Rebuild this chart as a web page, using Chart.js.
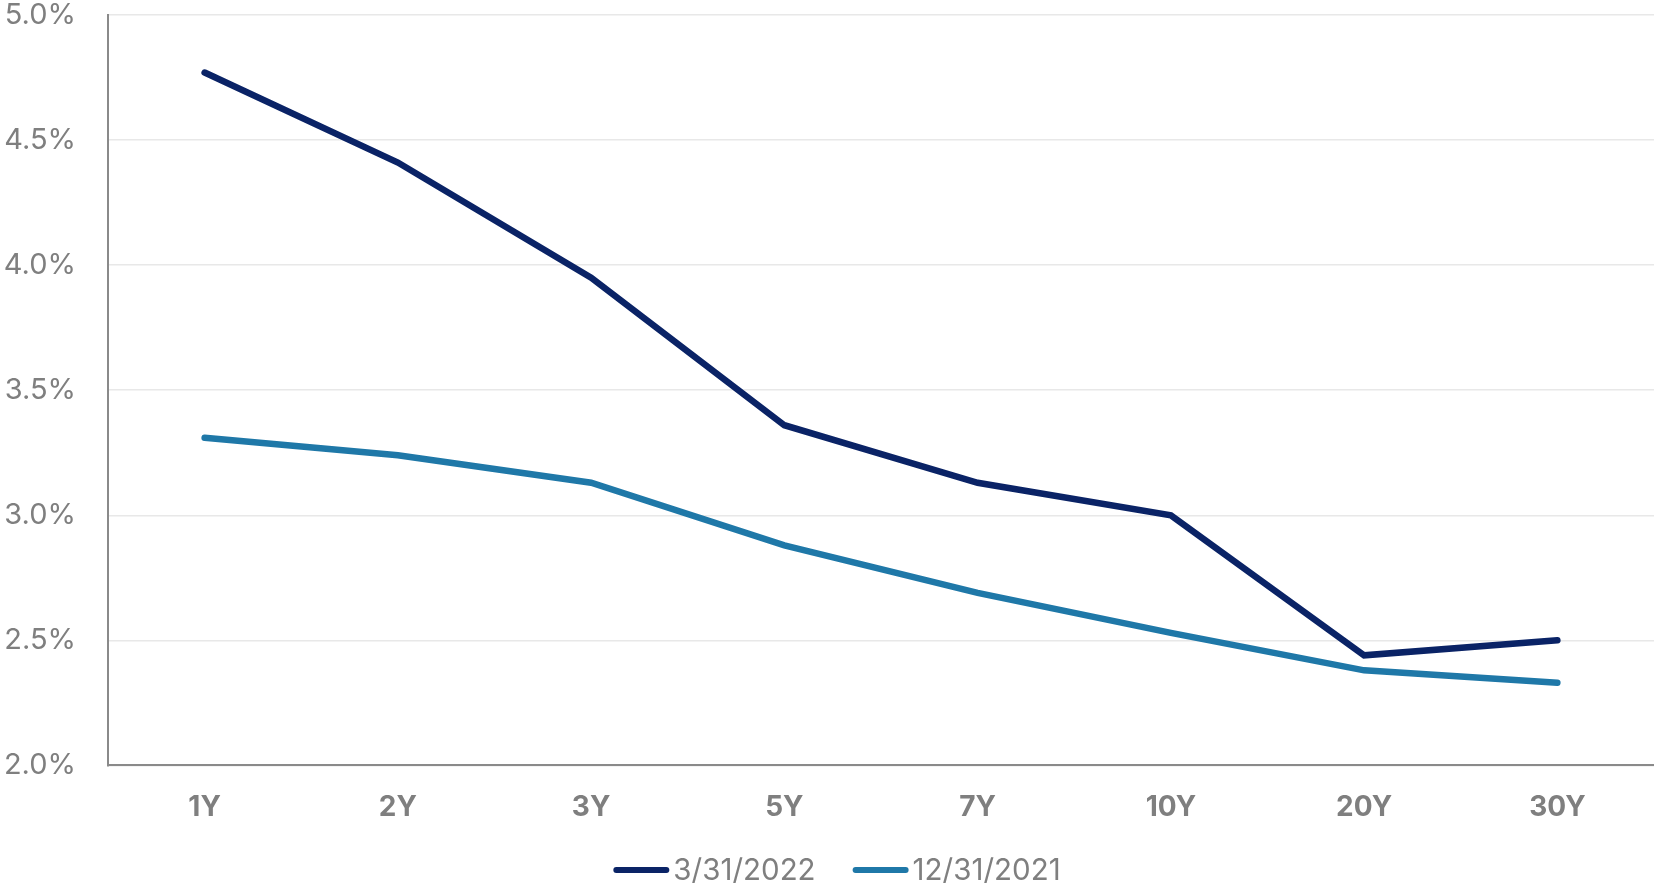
<!DOCTYPE html>
<html>
<head>
<meta charset="utf-8">
<title>Yield curve</title>
<script src="https://cdn.jsdelivr.net/npm/chart.js@4/dist/chart.umd.min.js"></script>
<style>
  html, body { margin: 0; padding: 0; background: #ffffff; }
  #wrap { width: 1654px; height: 886px; position: relative; }
</style>
</head>
<body>
<div id="wrap"><canvas id="chart"></canvas></div>
<script>
// Maturity buckets along the curve
const maturities = ['1Y', '2Y', '3Y', '5Y', '7Y', '10Y', '20Y', '30Y'];

// Yields (%) at each maturity
const yieldsMar2022 = [4.77, 4.41, 3.95, 3.36, 3.13, 3.00, 2.44, 2.50];
const yieldsDec2021 = [3.31, 3.24, 3.13, 2.88, 2.69, 2.53, 2.38, 2.33];

const seriesLabels = ['3/31/2022', '12/31/2021'];
const seriesColors = ['#0A2366', '#1F78A8'];

// Y axis range and step
const yMin = 2.0, yMax = 5.0, yStep = 0.5;

const FONT = 'Inter, "Noto Sans", sans-serif';
const GREY = '#7f7f7f';

// Legend drawn below the axis: short line swatch followed by the label
const lineLegend = {
  id: 'lineLegend',
  afterDraw(chart) {
    const ctx = chart.ctx;
    const fontSize = 29.5;
    const swatch = 56, textGap = 4, itemGap = 37;
    ctx.save();
    ctx.font = fontSize + 'px ' + FONT;
    const items = chart.data.datasets.map(ds => ({
      text: ds.label, color: ds.borderColor, w: ctx.measureText(ds.label).width
    }));
    let total = 0;
    items.forEach((it, i) => { total += swatch + textGap + it.w + (i ? itemGap : 0); });
    let x = chart.width / 2 + 10 - total / 2;
    const y = chart.height - 16;
    items.forEach(it => {
      ctx.strokeStyle = it.color;
      ctx.lineWidth = 6;
      ctx.lineCap = 'round';
      ctx.beginPath();
      ctx.moveTo(x + 3, y);
      ctx.lineTo(x + swatch - 3, y);
      ctx.stroke();
      ctx.fillStyle = GREY;
      ctx.textBaseline = 'middle';
      ctx.textAlign = 'left';
      ctx.fillText(it.text, x + swatch + textGap, y + 1);
      x += swatch + textGap + it.w + itemGap;
    });
    ctx.restore();
  }
};

const datasets = [yieldsMar2022, yieldsDec2021].map((vals, i) => ({
  label: seriesLabels[i],
  data: vals,
  borderColor: seriesColors[i],
  backgroundColor: seriesColors[i],
  borderWidth: 6.5,
  borderCapStyle: 'round',
  pointRadius: 0,
  pointHoverRadius: 0,
  tension: 0,
  fill: false
}));

new Chart(document.getElementById('chart'), {
  type: 'line',
  data: { labels: maturities, datasets },
  plugins: [lineLegend],
  options: {
    responsive: true,
    maintainAspectRatio: false,
    animation: false,
    layout: { padding: { top: 0, right: 0, left: 0, bottom: 37 } },
    plugins: {
      legend: { display: false },
      tooltip: { enabled: false }
    },
    scales: {
      x: {
        offset: true,
        grid: { display: false, drawTicks: false },
        border: { display: true, color: '#8a8a8a', width: 2 },
        ticks: {
          color: GREY,
          padding: 25,
          font: { family: FONT, size: 28, weight: 'bold' }
        }
      },
      y: {
        min: yMin,
        max: yMax,
        afterFit(scale) {
          scale.width = 108;
          scale.paddingTop = 15;
          scale.paddingBottom = 0;
        },
        grid: { color: '#e8e8e8', lineWidth: 1.5, drawTicks: false },
        border: { display: true, color: '#8a8a8a', width: 2 },
        ticks: {
          stepSize: yStep,
          color: GREY,
          padding: 32,
          font: { family: FONT, size: 29 },
          callback: v => v.toFixed(1) + '%'
        }
      }
    }
  }
});
</script>
</body>
</html>
